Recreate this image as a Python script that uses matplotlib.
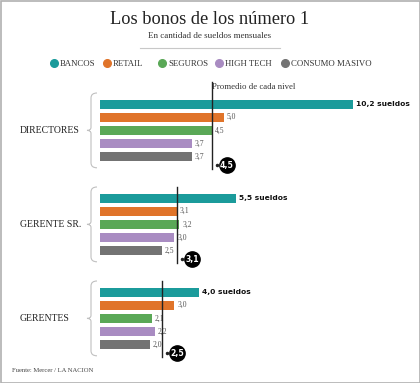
import numpy as np
import matplotlib
matplotlib.use("Agg")
import matplotlib.pyplot as plt
from matplotlib.path import Path
from matplotlib.patches import PathPatch

groups = ["DIRECTORES", "GERENTE SR.", "GERENTES"]
sectors = ["BANCOS", "RETAIL", "SEGUROS", "HIGH TECH", "CONSUMO MASIVO"]
colors = ["#1b9b9b", "#e0742a", "#5aa857", "#a98cc2", "#737373"]
directores = [10.2, 5.0, 4.5, 3.7, 3.7]
gerente_sr = [5.5, 3.1, 3.2, 3.0, 2.5]
gerentes = [4.0, 3.0, 2.1, 2.2, 2.0]
promedios = [4.5, 3.1, 2.5]
values = [directores, gerente_sr, gerentes]

W, H = 420, 383
X0, SCALE = 100, 24.8          # bar origin in px, px per sueldo

def px(x):
    return (x - X0) / SCALE

def coma(v):
    return ("%.1f" % v).replace(".", ",")

fig = plt.figure(figsize=(W / 100, H / 100), dpi=100)
ax = fig.add_axes([0, 0, 1, 1])
ax.set_xlim(px(0), px(W))
ax.set_ylim(H, 0)
ax.axis("off")

serif = "Liberation Serif"
sans = "DejaVu Sans"

# frame
ax.add_patch(plt.Rectangle((px(0.5), 0.5), (W - 1) / SCALE, H - 1,
                           fill=False, ec="#b0b0b0", lw=1.2))

ax.text(px(210), 19, "Los bonos de los número 1", family=serif,
        fontsize=13.2, ha="center", va="center", color="#222222")
ax.text(px(210), 36, "En cantidad de sueldos mensuales", family=serif,
        fontsize=6.5, ha="center", va="center", color="#333333")
ax.plot([px(140), px(280)], [48, 48], color="#c8c8c8", lw=0.8)

# legend
leg_x = [54, 107, 162, 219, 285]
for lx, name, c in zip(leg_x, sectors, colors):
    ax.plot(px(lx), 63, "o", ms=5.5, color=c)
    ax.text(px(lx + 6), 63.5, name, family=serif, fontsize=6.3,
            va="center", ha="left", color="#333333")

group_top = [104, 198, 292]
step = 13.2
for g, (name, vals, avg, y0) in enumerate(zip(groups, values, promedios, group_top)):
    ys = [y0 + i * step for i in range(len(vals))]
    ax.barh(ys, vals, height=9, left=0, color=colors, zorder=2)
    for i, (v, y) in enumerate(zip(vals, ys)):
        if i == 0:
            ax.annotate(coma(v) + " sueldos", (v, y), xytext=(2, 0),
                        textcoords="offset points", va="center",
                        family=sans, fontsize=5.4, fontweight="bold",
                        color="#111111")
        else:
            ax.annotate(coma(v), (v, y), xytext=(2, 0),
                        textcoords="offset points", va="center",
                        family=serif, fontsize=5.5, color="#555555")
    # average line
    top = y0 - (22 if g == 0 else 11)
    bot = ys[-1] + 12
    ax.plot([avg, avg], [top, bot], color="#222222", lw=1, zorder=3)
    cx = avg + 15 / SCALE
    cy = ys[-1] + 8
    ax.plot(cx, cy, "o", ms=11, color="black", zorder=4)
    ax.text(cx, cy + 0.5, coma(avg), ha="center", va="center", color="white",
            fontsize=5.6, fontweight="bold", family=sans, zorder=5)
    ax.plot(cx - 10 / SCALE, cy, "o", ms=1.5, color="#222222")

    # brace
    bx, btop, bbot = 97, y0 - 11, ys[-1] + 11
    mid = (btop + bbot) / 2
    verts = [(bx, btop), (91, btop), (91, btop + 5),
             (91, mid - 3), (91, mid), (87, mid),
             (91, mid), (91, mid + 3),
             (91, bbot - 5), (91, bbot), (bx, bbot)]
    verts = [(px(a), b) for a, b in verts]
    codes = [Path.MOVETO, Path.CURVE3, Path.CURVE3,
             Path.LINETO, Path.CURVE3, Path.CURVE3,
             Path.CURVE3, Path.CURVE3,
             Path.LINETO, Path.CURVE3, Path.CURVE3]
    ax.add_patch(PathPatch(Path(verts, codes), fill=False, ec="#c0c0c0", lw=0.8))

    ax.text(px(20), mid, name, family=serif, fontsize=7, va="center",
            ha="left", color="#222222")

ax.text(px(212.5), 87, "Promedio de cada nivel", family=serif, fontsize=6.3,
        va="center", ha="left", color="#333333")

ax.text(px(12), 371, "Fuente: Mercer / LA NACION", family=serif, fontsize=4.8,
        va="center", ha="left", color="#444444")

fig.savefig("out.png", dpi=100)
